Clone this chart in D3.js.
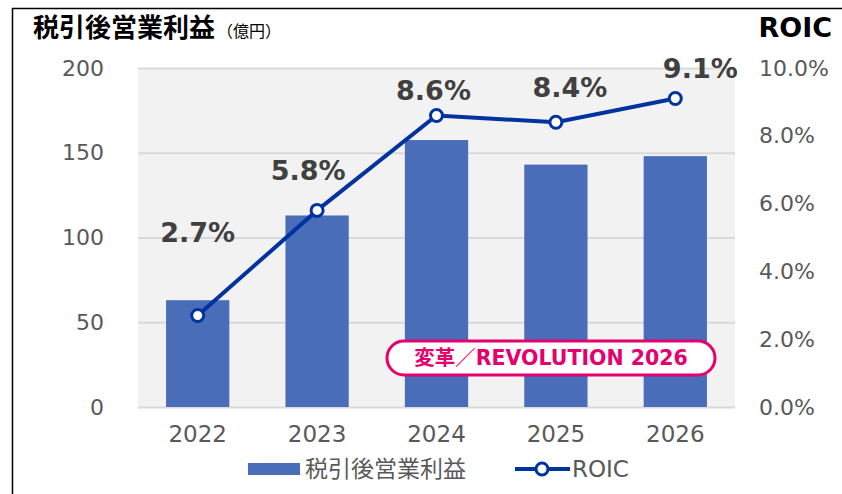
<!DOCTYPE html>
<html>
<head>
<meta charset="utf-8">
<script src="https://cdn.jsdelivr.net/npm/d3@7"></script>
<style>
  body { margin: 0; background: #fff; }
  svg text { font-family: "DejaVu Sans", "Noto Sans CJK JP", sans-serif; }
</style>
</head>
<body>
<div id="chart"></div>
<script>
// data
const years = ["2022", "2023", "2024", "2025", "2026"];
const profit = [63, 113, 157.5, 143, 148];     // 税引後営業利益 (億円)
const roic = [2.7, 5.8, 8.6, 8.4, 9.1];        // ROIC (%)
const leftTicks = [0, 50, 100, 150, 200];
const rightTicks = [0, 2, 4, 6, 8, 10];

// label nudges (px) so they sit like the original
const labelShift = [[0, -83], [-9, -40], [-3, -25], [14, -35], [25, -30]];

const width = 842, height = 494;
const svg = d3.select("#chart")
  .append("svg")
    .attr("width", width)
    .attr("height", height);

const plot = {left: 138, right: 735, top: 68, bottom: 407};

const x = d3.scaleBand()
    .domain(years)
    .range([plot.left, plot.right])
    .paddingInner(0.47)
    .paddingOuter(0.235);

const yL = d3.scaleLinear().domain([0, 200]).range([plot.bottom, plot.top]);
const yR = d3.scaleLinear().domain([0, 10]).range([plot.bottom, plot.top]);

// frame
svg.append("path")
    .attr("d", `M12.5,${height} V8.5 H${width}`)
    .attr("fill", "none")
    .attr("stroke", "#000")
    .attr("stroke-width", 1.5);

// plot background
svg.append("rect")
    .attr("x", plot.left).attr("y", plot.top)
    .attr("width", plot.right - plot.left)
    .attr("height", plot.bottom - plot.top)
    .attr("fill", "#f2f2f2");

// gridlines
svg.append("g")
  .selectAll("line")
  .data(leftTicks)
  .join("line")
    .attr("x1", plot.left).attr("x2", plot.right)
    .attr("y1", d => yL(d) + 0.5).attr("y2", d => yL(d) + 0.5)
    .attr("stroke", "#d9d9d9")
    .attr("stroke-width", 2);

// left axis
const axL = svg.append("g")
    .attr("transform", `translate(${plot.left - 34},0)`)
    .call(d3.axisLeft(yL).tickValues(leftTicks).tickSize(0).tickPadding(0));
axL.select(".domain").remove();
axL.selectAll("text")
    .attr("fill", "#595959")
    .style("font-size", "22px");

// right axis
const axR = svg.append("g")
    .attr("transform", `translate(${plot.right + 24},0)`)
    .call(d3.axisRight(yR).tickValues(rightTicks).tickSize(0).tickPadding(0)
      .tickFormat(d => d.toFixed(1) + "%"));
axR.select(".domain").remove();
axR.selectAll("text")
    .attr("fill", "#595959")
    .style("font-size", "22px");

// bottom axis
const axB = svg.append("g")
    .attr("transform", `translate(0,${plot.bottom + 14})`)
    .call(d3.axisBottom(x).tickSize(0).tickPadding(0));
axB.select(".domain").remove();
axB.selectAll("text")
    .attr("fill", "#595959")
    .attr("dy", "0.9em")
    .style("font-size", "23px");

// bars
svg.append("g")
  .selectAll("rect")
  .data(profit)
  .join("rect")
    .attr("x", (d, i) => x(years[i]))
    .attr("width", x.bandwidth())
    .attr("y", d => yL(d))
    .attr("height", d => yL(0) - yL(d))
    .attr("fill", "#4a6dba");

// ROIC line
const line = d3.line()
    .x((d, i) => x(years[i]) + x.bandwidth() / 2)
    .y(d => yR(d));

svg.append("path")
    .datum(roic)
    .attr("d", line)
    .attr("fill", "none")
    .attr("stroke", "#0033a0")
    .attr("stroke-width", 4);

svg.append("g")
  .selectAll("circle")
  .data(roic)
  .join("circle")
    .attr("cx", (d, i) => x(years[i]) + x.bandwidth() / 2)
    .attr("cy", d => yR(d))
    .attr("r", 6)
    .attr("fill", "#fff")
    .attr("stroke", "#0033a0")
    .attr("stroke-width", 3);

// value labels
svg.append("g")
  .selectAll("text")
  .data(roic)
  .join("text")
    .attr("x", (d, i) => x(years[i]) + x.bandwidth() / 2 + labelShift[i][0])
    .attr("y", (d, i) => yR(d) + labelShift[i][1])
    .attr("text-anchor", "middle")
    .attr("dy", "0.35em")
    .attr("fill", "#404040")
    .style("font-size", "27px")
    .style("font-weight", "bold")
    .text(d => d.toFixed(1) + "%");

// badge
const badge = svg.append("g").attr("transform", "translate(551,358)");
badge.append("rect")
    .attr("x", -164).attr("y", -17)
    .attr("width", 328).attr("height", 34)
    .attr("rx", 17)
    .attr("fill", "#fff")
    .attr("stroke", "#e6006e")
    .attr("stroke-width", 3);
badge.append("text")
    .attr("text-anchor", "middle")
    .attr("dy", "0.36em")
    .attr("fill", "#e6006e")
    .style("font-size", "20.5px")
    .style("font-weight", "bold")
    .text("変革／REVOLUTION 2026");

// titles
const title = svg.append("text")
    .attr("x", 33).attr("y", 37)
    .attr("fill", "#000");
title.append("tspan")
    .style("font-size", "26px")
    .style("font-weight", "bold")
    .text("税引後営業利益");
title.append("tspan")
    .style("font-size", "16px")
    .attr("dx", 2)
    .text("（億円）");

svg.append("text")
    .attr("x", 832).attr("y", 37)
    .attr("text-anchor", "end")
    .style("font-size", "27px")
    .style("font-weight", "bold")
    .attr("fill", "#000")
    .text("ROIC");

// legend
const legend = svg.append("g").attr("transform", "translate(0,469)");
legend.append("rect")
    .attr("x", 248).attr("y", -6)
    .attr("width", 52).attr("height", 12)
    .attr("fill", "#4a6dba");
legend.append("text")
    .attr("x", 305).attr("dy", "0.35em")
    .attr("fill", "#595959")
    .style("font-size", "23px")
    .text("税引後営業利益");
legend.append("line")
    .attr("x1", 515).attr("x2", 570)
    .attr("stroke", "#0033a0")
    .attr("stroke-width", 4);
legend.append("circle")
    .attr("cx", 542).attr("r", 6)
    .attr("fill", "#fff")
    .attr("stroke", "#0033a0")
    .attr("stroke-width", 3);
legend.append("text")
    .attr("x", 572).attr("dy", "0.35em")
    .attr("fill", "#595959")
    .style("font-size", "23px")
    .text("ROIC");
</script>
</body>
</html>
